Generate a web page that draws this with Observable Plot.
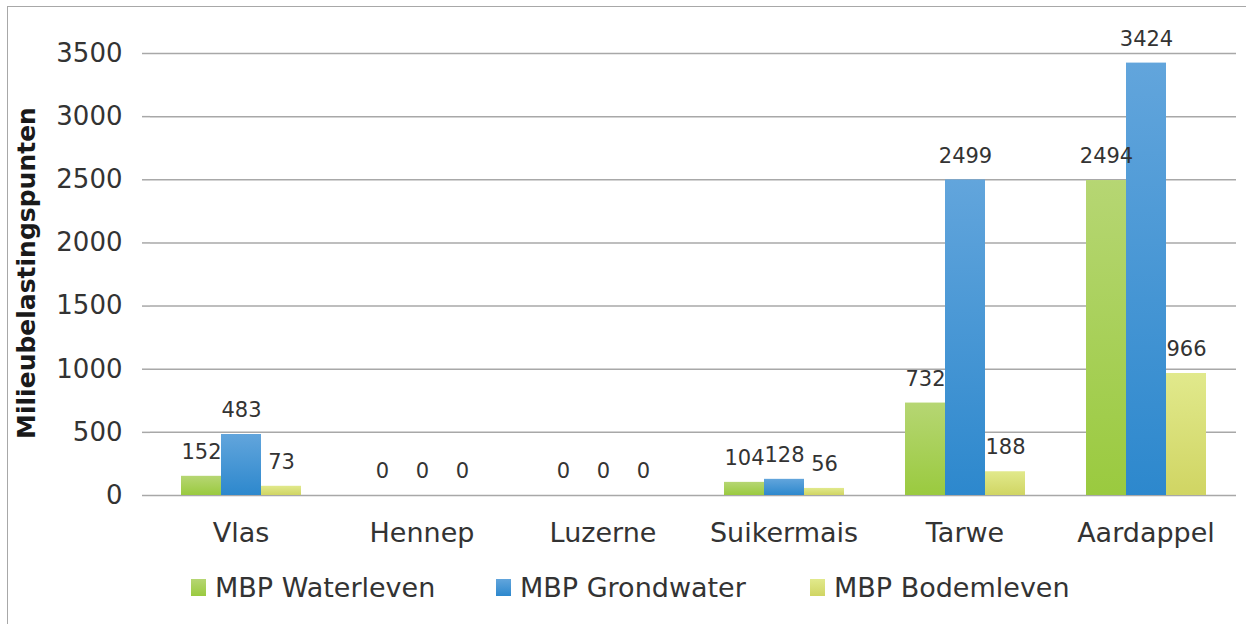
<!DOCTYPE html>
<html>
<head>
<meta charset="utf-8">
<script src="https://cdn.jsdelivr.net/npm/d3@7"></script>
<script src="https://cdn.jsdelivr.net/npm/@observablehq/plot@0.6"></script>
<style>
  html, body { margin: 0; padding: 0; background: #fff; }
  body { width: 1246px; height: 624px; position: relative; overflow: hidden; font-family: "DejaVu Sans", sans-serif; }
  #frame { position: absolute; left: 7px; top: 6px; width: 1300px; height: 700px; border-left: 1.5px solid #a8a8a8; border-top: 1.5px solid #a8a8a8; box-sizing: border-box; }
  #chart { position: absolute; left: 0; top: 0; }
  .leg { position: absolute; top: 573px; height: 28px; display: flex; align-items: center; font-size: 27px; color: #333; white-space: nowrap; }
  .sw { width: 15px; height: 17px; margin-right: 9px; }
</style>
</head>
<body>
<div id="frame"></div>
<div id="chart"></div>
<div id="legend"></div>
<script>
const categories = ["Vlas", "Hennep", "Luzerne", "Suikermais", "Tarwe", "Aardappel"];
const series = ["MBP Waterleven", "MBP Grondwater", "MBP Bodemleven"];
const waterleven = [152, 0, 0, 104, 732, 2494];
const grondwater = [483, 0, 0, 128, 2499, 3424];
const bodemleven = [73, 0, 0, 56, 188, 966];
const yTicks = [0, 500, 1000, 1500, 2000, 2500, 3000, 3500];
const yTitle = "Milieubelastingspunten";

const gradients = [
  {id: "gWater", top: "#b6d673", bottom: "#9aca3f"},
  {id: "gGrond", top: "#62a5dc", bottom: "#2d88cd"},
  {id: "gBodem", top: "#e1e98c", bottom: "#d0d563"}
];

const valuesBySeries = [waterleven, grondwater, bodemleven];
const rows = [];
series.forEach((s, si) => categories.forEach((c, ci) => rows.push({cat: c, series: s, si, value: valuesBySeries[si][ci]})));

const defsMark = () => {
  const defs = d3.create("svg:defs");
  for (const g of gradients) {
    const lg = defs.append("linearGradient").attr("id", g.id).attr("x1", 0).attr("x2", 0).attr("y1", 0).attr("y2", 1);
    lg.append("stop").attr("offset", "0%").attr("stop-color", g.top);
    lg.append("stop").attr("offset", "100%").attr("stop-color", g.bottom);
  }
  return defs.node();
};

const axisColor = "#a8a8a8";

const separators = Plot.text(categories, {
  fx: d => d,
  text: d => "",
  render: (index, scales) => {
    const g = d3.create("svg:g").attr("stroke", axisColor).attr("stroke-width", 1.5);
    const [x0, x1] = scales.x.range();
    const y0 = scales.y(0);
    for (const i of index) {
      const cat = categories[i];
      g.append("line").attr("x1", x0).attr("x2", x0).attr("y1", y0).attr("y2", y0 + 9);
      g.append("line").attr("x1", x1).attr("x2", x1).attr("y1", y0).attr("y2", y0 + 9);
      if (cat === categories[0]) {
        g.append("line").attr("x1", x0).attr("x2", x0).attr("y1", scales.y(3500)).attr("y2", y0 + 9);
      }
    }
    return g.node();
  }
});

const plot = Plot.plot({
  width: 1246,
  height: 565,
  marginLeft: 148,
  marginRight: 9,
  marginTop: 53,
  marginBottom: 70,
  style: {fontFamily: "DejaVu Sans, sans-serif", background: "transparent", overflow: "visible"},
  fx: {domain: categories, padding: 0, label: null},
  x: {domain: series, paddingInner: 0, paddingOuter: 0.71, axis: null},
  y: {domain: [0, 3500], label: null},
  marks: [
    defsMark,
    Plot.gridY(yTicks, {stroke: axisColor, strokeOpacity: 1, strokeWidth: 1.5}),
    Plot.axisY(yTicks, {tickSize: 8, tickPadding: 20, fontSize: 26, fill: "#333", stroke: axisColor, strokeWidth: 1.5, label: null, tickFormat: d => String(d)}),
    ...gradients.map((g, si) => Plot.barY(rows.filter(r => r.si === si), {fx: "cat", x: "series", y: "value", fill: `url(#${g.id})`})),
    separators,
    Plot.axisFx({anchor: "bottom", tickSize: 0, tickPadding: 27.5, fontSize: 27, fill: "#333", label: null}),
    Plot.text(rows, {fx: "cat", x: "series", y: "value", text: d => String(d.value), dy: -24, fontSize: 21, fill: "#333", lineAnchor: "middle"})
  ]
});

const svg = d3.select(plot);
svg.append("text")
  .attr("transform", "translate(35,273) rotate(-90)")
  .attr("text-anchor", "middle")
  .attr("font-family", "DejaVu Sans, sans-serif")
  .attr("font-weight", "bold")
  .attr("font-size", 25)
  .attr("fill", "#1a1a1a")
  .text(yTitle);

document.getElementById("chart").appendChild(plot);

const legendLeft = [191, 496, 810];
const legend = document.getElementById("legend");
series.forEach((s, i) => {
  const item = document.createElement("div");
  item.className = "leg";
  item.style.left = legendLeft[i] + "px";
  const sw = document.createElement("div");
  sw.className = "sw";
  sw.style.background = `linear-gradient(${gradients[i].top}, ${gradients[i].bottom})`;
  const tx = document.createElement("span");
  tx.textContent = s;
  item.appendChild(sw);
  item.appendChild(tx);
  legend.appendChild(item);
});
</script>
</body>
</html>
